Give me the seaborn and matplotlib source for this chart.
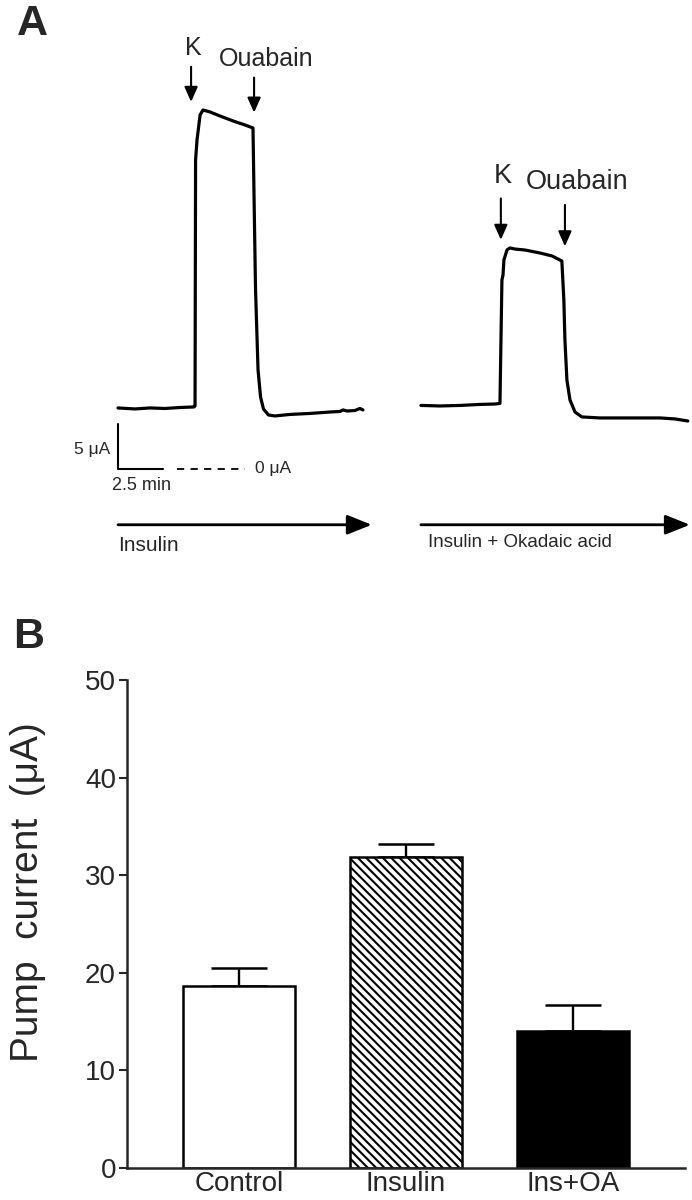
import numpy as np
import pandas as pd
import seaborn as sns
import matplotlib.pyplot as plt

# panel A: current traces (time in min, current in uA)
trace1_t = [0, 0.94, 1.78, 2.61, 3.44, 4.22, 4.28, 4.31, 4.39, 4.56,
            4.72, 5.11, 5.67, 6.39, 7.06, 7.5, 7.56, 7.64, 7.78, 7.92,
            8.08, 8.36, 8.72, 9.56, 10.67, 11.78, 12.33, 12.5, 12.72, 13.17,
            13.44, 13.61]
trace1_i = [6.78, 6.67, 6.78, 6.72, 6.83, 6.89, 7.0, 34.33, 36.56, 39.33,
            39.89, 39.67, 39.22, 38.67, 38.22, 37.89, 30.0, 20.0, 11.0, 8.0,
            6.67, 6.0, 5.89, 6.06, 6.17, 6.33, 6.39, 6.56, 6.44, 6.5,
            6.72, 6.56]

trace2_t = [0, 1.06, 2.17, 3.28, 4.11, 4.39, 4.5, 4.56, 4.61, 4.78,
            4.94, 5.22, 5.78, 6.61, 7.28, 7.83, 7.94, 8.0, 8.11, 8.28,
            8.56, 8.94, 9.94, 11.61, 13.28, 14.11, 14.83]
trace2_i = [7.06, 7.0, 7.06, 7.17, 7.22, 7.28, 21.0, 21.56, 23.22, 24.33,
            24.56, 24.44, 24.33, 24.0, 23.67, 23.11, 18.78, 14.33, 9.89, 7.67,
            6.33, 5.78, 5.67, 5.67, 5.67, 5.56, 5.33]

# time of K and ouabain additions
trace1_events = [4.06, 7.56]
trace2_events = [4.44, 8.0]
event_names = ['K', 'Ouabain']

# panel B: mean pump current +- sem
conditions = ['Control', 'Insulin', 'Ins+OA']
pump_mean = [18.6, 31.9, 14.0]
pump_sem = [1.9, 1.3, 2.7]

sns.set_style('ticks')
plt.rcParams['font.family'] = ['Liberation Sans', 'DejaVu Sans']
plt.rcParams['hatch.linewidth'] = 1.5

fig = plt.figure(figsize=(6.92, 12), dpi=100)

# ---------------- panel A ----------------
axa = fig.add_axes([0, 0.5, 1, 0.5])
offset2 = 16.83   # gap between the two recordings (min)
sns.lineplot(x=trace1_t, y=trace1_i, sort=False, color='black', lw=2.3, ax=axa)
sns.lineplot(x=np.array(trace2_t) + offset2, y=trace2_i, sort=False,
             color='black', lw=2.3, ax=axa)
axa.set_xlim(-6.556, 31.89)
axa.set_ylim(-14.56, 52.11)
axa.axis('off')

small_arrow = dict(arrowstyle='-|>,head_length=0.45,head_width=0.2',
                   color='black', lw=1.5, mutation_scale=20, shrinkA=0, shrinkB=0)


def mark_events(times, tr_t, tr_i, off, fs, length, lab_gap):
    for tm, name in zip(times, event_names):
        if name == 'K':
            y_tip = max(tr_i) + 0.9
            dx = 0.1
        else:
            y_tip = np.interp(tm - 0.2, tr_t, tr_i) + 1.6
            dx = 0.65
        y_tail = y_tip + length
        axa.annotate('', xy=(tm + off, y_tip), xytext=(tm + off, y_tail),
                     arrowprops=small_arrow)
        axa.text(tm + off + dx, y_tail + lab_gap, name, ha='center',
                 va='center', fontsize=fs)


mark_events(trace1_events, trace1_t, trace1_i, 0, 18, 3.9, 2.1)
mark_events(trace2_events, trace2_t, trace2_i, offset2, 19.5, 4.6, 2.5)

# scale bar
axa.plot([0, 0, 2.5], [5, 0, 0], color='black', lw=1.5)
axa.plot([3.28, 7.06], [0, 0], color='black', lw=1.3, ls=(0, (4, 3.5)))
axa.text(7.6, 0, '0 μA', va='center', ha='left', fontsize=12.5)
axa.text(-0.45, 2.2, '5 μA', va='center', ha='right', fontsize=12.5)
axa.text(-0.35, -0.9, '2.5 min', va='top', ha='left', fontsize=13)

# treatment arrows
big_arrow = dict(arrowstyle='-|>,head_length=0.75,head_width=0.3',
                 color='black', lw=2, mutation_scale=20, shrinkA=0, shrinkB=0)
axa.annotate('', xy=(14.1, -6.2), xytext=(0, -6.2), arrowprops=big_arrow)
axa.annotate('', xy=(offset2 + 14.94, -6.2), xytext=(offset2, -6.2),
             arrowprops=big_arrow)
axa.text(0, -8.5, 'Insulin', va='center', ha='left', fontsize=15)
axa.text(offset2 + 0.39, -8.2, 'Insulin + Okadaic acid', va='center',
         ha='left', fontsize=13.5)

# ---------------- panel B ----------------
axb = fig.add_axes([127 / 692, 1 - 1168 / 1200, 558 / 692, 488 / 1200])
sns.barplot(x=conditions, y=pump_mean, hue=conditions,
            palette=['white', 'white', 'black'], edgecolor='black',
            linewidth=1.8, width=0.67, legend=False, ax=axb)
axb.patches[1].set_hatch('\\\\\\\\')
axb.errorbar(x=range(len(conditions)), y=pump_mean,
             yerr=[np.zeros(len(pump_sem)), pump_sem], fmt='none',
             ecolor='black', elinewidth=1.7, capsize=20, capthick=1.8, zorder=0.5)
axb.set_xlim(-0.67, 2.67)
axb.set_ylim(0, 50)
axb.set_yticks([0, 10, 20, 30, 40, 50])
sns.despine(ax=axb)
for s in ['left', 'bottom']:
    axb.spines[s].set_linewidth(1.8)
axb.tick_params(axis='y', length=6, width=1.5, labelsize=20, pad=2)
axb.tick_params(axis='x', length=0, labelsize=20, pad=2)
axb.set_ylabel('Pump  current  (μA)', fontsize=28)
axb.yaxis.set_label_coords(-0.145, 0.565)
axb.set_xlabel('')

fig.text(17 / 692, 1 - 35 / 1200, 'A', fontsize=31, fontweight='bold', va='baseline')
fig.text(13 / 692, 1 - 648 / 1200, 'B', fontsize=31, fontweight='bold', va='baseline')

fig.savefig('out.png', dpi=100)
